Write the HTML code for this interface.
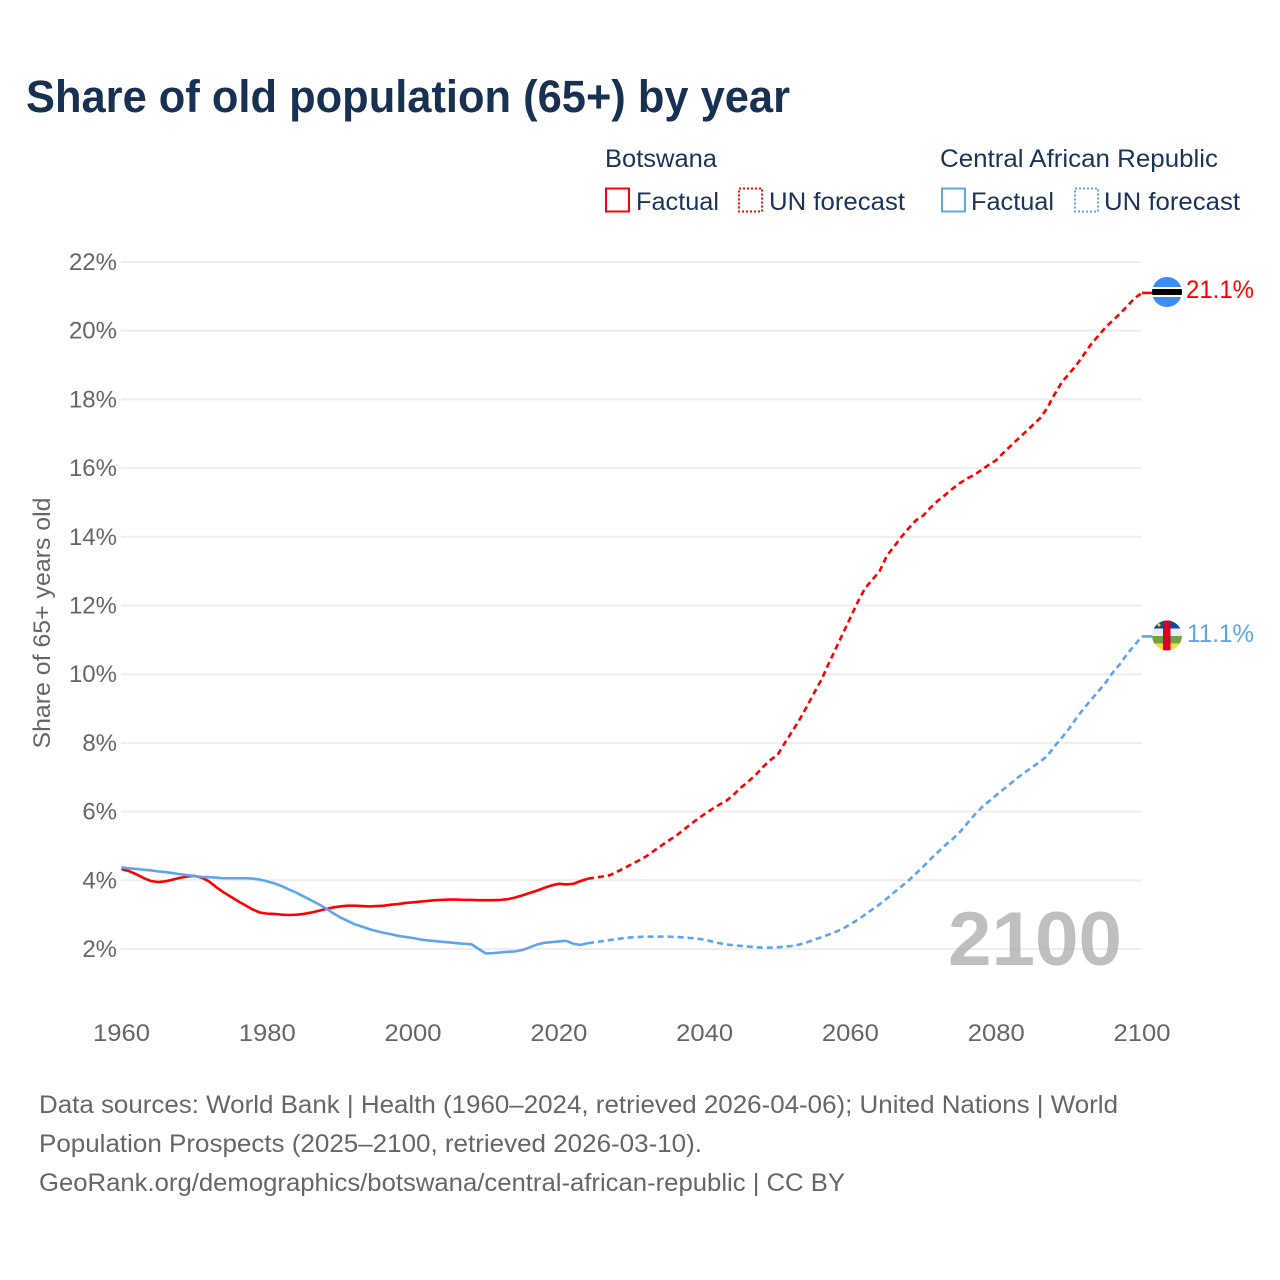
<!DOCTYPE html>
<html lang="en">
<head>
<meta charset="utf-8">
<title>Share of old population (65+) by year</title>
<style>
html,body{margin:0;padding:0;background:#fff;}
svg{display:block;font-family:"Liberation Sans",Arial,sans-serif;}
</style>
</head>
<body>
<svg id="chart" xmlns="http://www.w3.org/2000/svg" width="1280" height="1280" viewBox="0 0 1280 1280">
  <rect width="1280" height="1280" fill="#fff"/>
  <text x="26" y="112" font-size="45" font-weight="700" fill="#183153" textLength="764" lengthAdjust="spacingAndGlyphs">Share of old population (65+) by year</text>

  <g font-size="25" fill="#1b3358">
    <text x="605" y="167" textLength="112" lengthAdjust="spacingAndGlyphs">Botswana</text>
    <text x="940" y="167" textLength="278" lengthAdjust="spacingAndGlyphs">Central African Republic</text>
    <rect x="606" y="188.500" width="23" height="23" fill="none" stroke="#ff0000" stroke-width="2"/>
    <text x="636" y="210" textLength="83" lengthAdjust="spacingAndGlyphs">Factual</text>
    <rect x="739" y="188.500" width="23" height="23" fill="none" stroke="#ff0000" stroke-width="2" stroke-dasharray="2 2"/>
    <text x="769" y="210" textLength="136" lengthAdjust="spacingAndGlyphs">UN forecast</text>
    <rect x="942" y="188.500" width="23" height="23" fill="none" stroke="#5ea5ee" stroke-width="2"/>
    <text x="971" y="210" textLength="83" lengthAdjust="spacingAndGlyphs">Factual</text>
    <rect x="1075" y="188.500" width="23" height="23" fill="none" stroke="#5ea5ee" stroke-width="2" stroke-dasharray="2 2"/>
    <text x="1104" y="210" textLength="136" lengthAdjust="spacingAndGlyphs">UN forecast</text>
  </g>

  <g id="grid"></g>
  <g id="yticks" font-size="24" fill="#666"></g>
  <g id="xticks" font-size="24" fill="#666"></g>
  <text transform="translate(50 623) rotate(-90)" text-anchor="middle" font-size="24" fill="#666" textLength="251" lengthAdjust="spacingAndGlyphs">Share of 65+ years old</text>

  <text x="948" y="965" font-size="76" font-weight="700" fill="#aaa" fill-opacity="0.75" textLength="174" lengthAdjust="spacingAndGlyphs">2100</text>

  <g id="series"></g>

  <defs>
    <clipPath id="flag-bw-clip"><circle cx="1167" cy="292" r="15"/></clipPath>
    <clipPath id="flag-cf-clip"><circle cx="1167" cy="635.500" r="15"/></clipPath>
  </defs>
  <g clip-path="url(#flag-bw-clip)">
    <rect x="1152" y="277" width="30" height="30" fill="#3a8df5"/>
    <rect x="1152" y="287" width="30" height="10" fill="#fff"/>
    <rect x="1152" y="289" width="30" height="6" fill="#000"/>
  </g>
  <g clip-path="url(#flag-cf-clip)">
    <rect x="1152" y="620.500" width="30" height="8" fill="#0f4aa3"/>
    <rect x="1152" y="628.500" width="30" height="7.500" fill="#eeeeee"/>
    <rect x="1152" y="636" width="30" height="7.500" fill="#6da544"/>
    <rect x="1152" y="643.500" width="30" height="7.500" fill="#ffda44"/>
    <rect x="1163" y="620.500" width="7.500" height="30" fill="#d80027"/>
    <circle cx="1159" cy="625" r="1.500" fill="#ffda44"/>
  </g>
  <text x="1186" y="298" font-size="25" fill="#ff0000" textLength="68" lengthAdjust="spacingAndGlyphs">21.1%</text>
  <text x="1187" y="642" font-size="25" fill="#5ea5ee" textLength="67" lengthAdjust="spacingAndGlyphs">11.1%</text>

  <g font-size="25" fill="#666">
    <text x="39" y="1113" textLength="1079" lengthAdjust="spacingAndGlyphs">Data sources: World Bank | Health (1960–2024, retrieved 2026-04-06); United Nations | World</text>
    <text x="39" y="1152" textLength="663" lengthAdjust="spacingAndGlyphs">Population Prospects (2025–2100, retrieved 2026-03-10).</text>
    <text x="39" y="1191" textLength="806" lengthAdjust="spacingAndGlyphs">GeoRank.org/demographics/botswana/central-african-republic | CC BY</text>
  </g>
</svg>
<script>
const yTickValues = [2, 4, 6, 8, 10, 12, 14, 16, 18, 20, 22];
const xTickYears = [1960, 1980, 2000, 2020, 2040, 2060, 2080, 2100];
const factualStartYear = 1960;
const forecastStartYear = 2025;
const botswanaFactual = [
  4.33,4.27,4.18,4.07,3.98,3.95,3.97,4.02,4.07,4.11,
  4.13,4.08,3.97,3.80,3.65,3.52,3.39,3.27,3.15,3.06,
  3.03,3.02,3.00,2.99,3.00,3.02,3.06,3.11,3.16,3.21,
  3.24,3.26,3.26,3.25,3.24,3.25,3.26,3.29,3.31,3.34,
  3.36,3.38,3.40,3.42,3.43,3.44,3.44,3.43,3.43,3.42,
  3.42,3.42,3.43,3.45,3.50,3.56,3.63,3.70,3.78,3.85,
  3.90,3.88,3.90,3.98,4.05
];
const botswanaForecast = [
  4.08,4.11,4.15,4.25,4.36,4.47,
  4.58,4.70,4.85,5.00,5.15,
  5.28,5.45,5.62,5.78,5.93,
  6.07,6.20,6.32,6.50,6.70,
  6.88,7.07,7.30,7.50,7.65,
  8.00,8.33,8.67,9.05,9.45,
  9.83,10.30,10.75,11.20,11.65,
  12.10,12.50,12.75,13.00,13.45,
  13.72,14.00,14.25,14.48,14.62,
  14.85,15.05,15.22,15.40,15.56,
  15.70,15.80,15.95,16.10,16.23,
  16.45,16.65,16.85,17.05,17.25,
  17.45,17.75,18.15,18.50,18.75,
  19.00,19.30,19.60,19.85,20.10,
  20.30,20.50,20.72,20.95,21.10
];
const carFactual = [
  4.38,4.35,4.33,4.31,4.29,4.26,4.24,4.21,4.18,4.15,
  4.12,4.10,4.09,4.08,4.06,4.06,4.06,4.06,4.05,4.02,
  3.97,3.91,3.83,3.73,3.64,3.53,3.42,3.31,3.19,3.05,
  2.92,2.82,2.72,2.65,2.58,2.52,2.47,2.43,2.38,2.35,
  2.32,2.28,2.25,2.23,2.21,2.19,2.17,2.15,2.14,2.00,
  1.87,1.88,1.90,1.92,1.93,1.97,2.05,2.13,2.18,2.20,
  2.22,2.24,2.15,2.12,2.17
];
const carForecast = [
  2.20,2.23,2.26,2.29,2.32,2.34,
  2.35,2.36,2.36,2.36,2.36,
  2.35,2.34,2.32,2.30,2.27,
  2.22,2.17,2.13,2.11,2.09,
  2.07,2.05,2.04,2.04,2.05,
  2.07,2.09,2.13,2.19,2.27,
  2.34,2.42,2.50,2.60,2.72,
  2.85,3.00,3.15,3.30,3.47,
  3.65,3.82,4.00,4.20,4.40,
  4.62,4.82,5.02,5.20,5.40,
  5.65,5.90,6.12,6.30,6.48,
  6.65,6.82,7.00,7.15,7.30,
  7.45,7.62,7.90,8.15,8.42,
  8.72,9.00,9.25,9.50,9.75,
  10.05,10.30,10.60,10.85,11.10
];

const NS = 'http://www.w3.org/2000/svg';
const RED = '#ff0000';
const BLUE = '#5ea5ee';
function xScale(year) { return 121.5 + (year - 1960) * (1142 - 121.5) / 140; }
function yScale(value) { return 949 - (value - 2) * 34.35; }
function pathFrom(startYear, values, prefix) {
  let d = prefix || '';
  values.forEach(function (v, i) {
    d += (d ? 'L' : 'M') + xScale(startYear + i).toFixed(2) + ' ' + yScale(v).toFixed(2);
  });
  return d;
}

const grid = document.getElementById('grid');
const yticks = document.getElementById('yticks');
const xticks = document.getElementById('xticks');
const series = document.getElementById('series');

yTickValues.forEach(function (v) {
  const line = document.createElementNS(NS, 'line');
  
  
  line.setAttribute('x1', 121);
  line.setAttribute('x2', 1142);
  line.setAttribute('y1', yScale(v));
  line.setAttribute('y2', yScale(v));
  line.setAttribute('stroke', '#eeeeee');
  line.setAttribute('stroke-width', 2);
  grid.appendChild(line);

  const label = document.createElementNS(NS, 'text');
  
  
  label.setAttribute('x', 117);
  label.setAttribute('y', yScale(v) + 8);
  label.setAttribute('text-anchor', 'end');
  label.textContent = v + '%';
  yticks.appendChild(label);
});

xTickYears.forEach(function (year) {
  const label = document.createElementNS(NS, 'text');
  
  
  label.setAttribute('x', xScale(year));
  label.setAttribute('y', 1041);
  label.setAttribute('text-anchor', 'middle');
  label.setAttribute('textLength', 57);
  label.setAttribute('lengthAdjust', 'spacingAndGlyphs');
  label.textContent = year;
  xticks.appendChild(label);
});

function addLine(d, color, dashed) {
  const p = document.createElementNS(NS, 'path');
  p.setAttribute('d', d);
  p.setAttribute('fill', 'none');
  p.setAttribute('stroke', color);
  p.setAttribute('stroke-width', 2.6);
  p.setAttribute('stroke-linejoin', 'round');
  if (dashed) p.setAttribute('stroke-dasharray', '6 4');
  series.appendChild(p);
  return p;
}

const bwEndY = yScale(botswanaForecast[botswanaForecast.length - 1]);
const carEndY = yScale(carForecast[carForecast.length - 1]);

const bwFact = addLine(pathFrom(factualStartYear, botswanaFactual), RED, false);



const bwFc = addLine(pathFrom(forecastStartYear, botswanaForecast, 'M' + xScale(2024) + ' ' + yScale(botswanaFactual[botswanaFactual.length - 1])), RED, true);



const bwLead = addLine('M' + xScale(2100) + ' ' + bwEndY + 'L1153 ' + bwEndY, RED, false);



const carFact = addLine(pathFrom(factualStartYear, carFactual), BLUE, false);



const carFc = addLine(pathFrom(forecastStartYear, carForecast, 'M' + xScale(2024) + ' ' + yScale(carFactual[carFactual.length - 1])), BLUE, true);



const carLead = addLine('M' + xScale(2100) + ' ' + carEndY + 'L1153 ' + carEndY, BLUE, false);


</script>
</body>
</html>
